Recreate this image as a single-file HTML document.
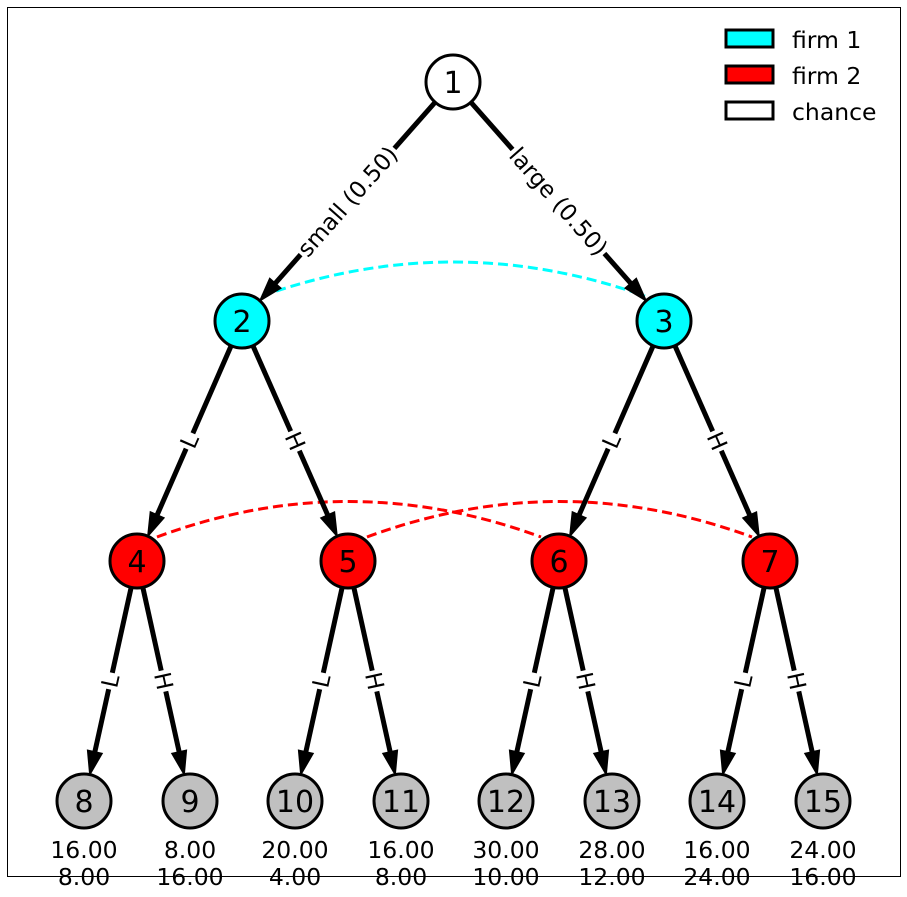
<!DOCTYPE html>
<html><head><meta charset="utf-8"><style>
html,body{margin:0;padding:0;background:#fff;}
svg{display:block;font-family:"DejaVu Sans","Liberation Sans",sans-serif;}
</style></head><body>
<svg id="s" width="907" height="897" viewBox="0 0 907 897" xmlns="http://www.w3.org/2000/svg">
<rect x="7.5" y="7.5" width="893" height="869" fill="#fff" stroke="#000" stroke-width="1"/>
<path d="M262,296 Q453,228 645,296" fill="none" stroke="#00ffff" stroke-width="3" stroke-dasharray="10,5"/>
<path d="M157,537 Q348,466 541,537" fill="none" stroke="#ff0000" stroke-width="3" stroke-dasharray="10,5"/>
<path d="M367,537 Q559,466 752,537" fill="none" stroke="#ff0000" stroke-width="3" stroke-dasharray="10,5"/>
<g id="edges"></g>
<g id="nodes"></g>
<g font-size="23.5" text-anchor="middle" fill="#000">
<text x="84" y="858">16.00</text><text x="84" y="885">8.00</text>
<text x="190" y="858">8.00</text><text x="190" y="885">16.00</text>
<text x="295" y="858">20.00</text><text x="295" y="885">4.00</text>
<text x="401" y="858">16.00</text><text x="401" y="885">8.00</text>
<text x="506" y="858">30.00</text><text x="506" y="885">10.00</text>
<text x="612" y="858">28.00</text><text x="612" y="885">12.00</text>
<text x="717" y="858">16.00</text><text x="717" y="885">24.00</text>
<text x="823" y="858">24.00</text><text x="823" y="885">16.00</text>
</g>
<g stroke="#000" stroke-width="3">
<rect x="726" y="30" width="47" height="17" fill="#00ffff"/>
<rect x="726" y="66" width="47" height="17" fill="#ff0000"/>
<rect x="726" y="102" width="47" height="17" fill="#fff"/>
</g>
<g font-size="23.5" fill="#000">
<text x="792" y="48">firm 1</text>
<text x="792" y="84">firm 2</text>
<text x="792" y="120">chance</text>
</g>
</svg>
<script>
var N={1:[453,82,'#fff'],2:[242,321,'#00ffff'],3:[664,321,'#00ffff'],
4:[137,561,'#ff0000'],5:[348,561,'#ff0000'],6:[559,561,'#ff0000'],7:[770,561,'#ff0000']};
var lx=[84,190,295,401,506,612,717,823];
for(var i=0;i<8;i++)N[8+i]=[lx[i],801,'#c0c0c0'];
var E=[[1,2,'small (0.50)'],[1,3,'large (0.50)'],[2,4,'L'],[2,5,'H'],[3,6,'L'],[3,7,'H']];
for(var p=4;p<=7;p++){E.push([p,2*p,'L']);E.push([p,2*p+1,'H']);}
var eg=document.getElementById('edges'),ng=document.getElementById('nodes');
var h='';
E.forEach(function(e,idx){
 var a=N[e[0]],b=N[e[1]],dx=b[0]-a[0],dy=b[1]-a[1],L=Math.hypot(dx,dy),ux=dx/L,uy=dy/L,r=28;
 var sx=a[0]+ux*r,sy=a[1]+uy*r,tx=b[0]-ux*r,ty=b[1]-uy*r;
 var al=22,aw=7,bx=tx-ux*al,by=ty-uy*al;
 h+='<line x1="'+sx+'" y1="'+sy+'" x2="'+(bx+ux*2)+'" y2="'+(by+uy*2)+'" stroke="#000" stroke-width="5"/>';
 h+='<polygon points="'+tx+','+ty+' '+(bx-uy*aw)+','+(by+ux*aw)+' '+(bx+uy*aw)+','+(by-ux*aw)+'" fill="#000" stroke="#000" stroke-width="2"/>';
 var mx=(a[0]+b[0])/2,my=(a[1]+b[1])/2,ang=Math.atan2(dy,dx)*180/Math.PI;
 if(ang>90)ang-=180;if(ang<-90)ang+=180;
 h+='<g transform="translate('+mx+','+my+') rotate('+ang+')"><rect id="lb'+idx+'" x="-10" y="-12" width="20" height="24" fill="#fff"/><text id="lt'+idx+'" x="0" y="8" font-size="23" text-anchor="middle">'+e[2]+'</text></g>';
});
eg.innerHTML=h;
E.forEach(function(e,idx){
 var t=document.getElementById('lt'+idx),w=t.getComputedTextLength()+4,rc=document.getElementById('lb'+idx);
 rc.setAttribute('x',-w/2);rc.setAttribute('width',w);
});
var g='';
for(var k in N){var n=N[k];
 g+='<circle cx="'+n[0]+'" cy="'+n[1]+'" r="27" fill="'+n[2]+'" stroke="#000" stroke-width="3"/>';
 g+='<text x="'+n[0]+'" y="'+(n[1]+11)+'" font-size="30" text-anchor="middle">'+k+'</text>';}
ng.innerHTML=g;
</script>
</body></html>
